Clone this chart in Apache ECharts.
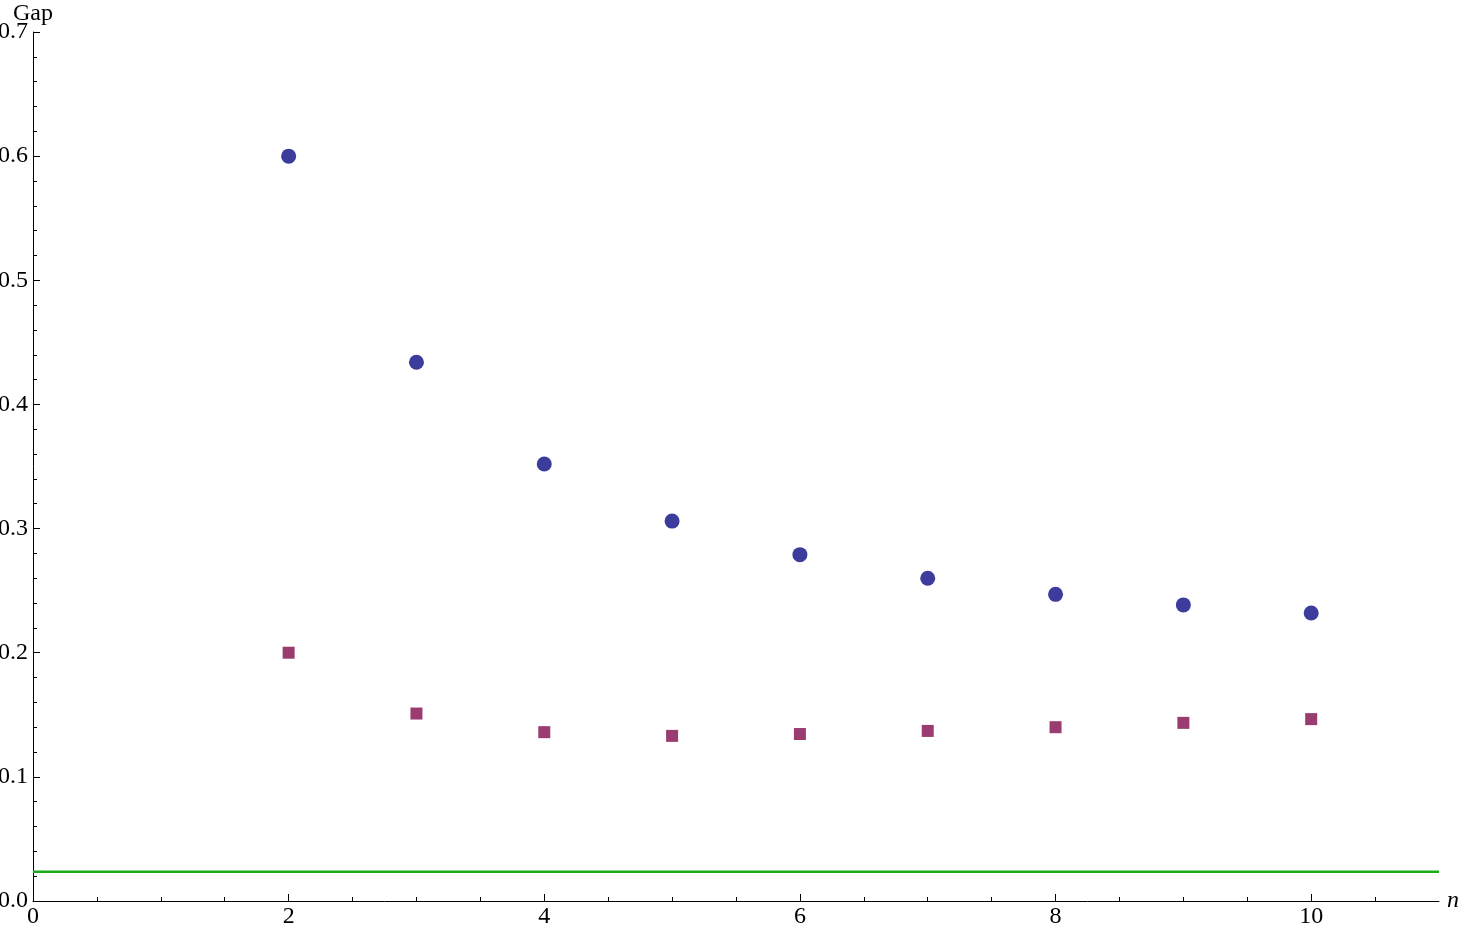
<!DOCTYPE html>
<html>
<head>
<meta charset="utf-8">
<script src="https://cdn.jsdelivr.net/npm/echarts@6/dist/echarts.min.js"></script>
<style>
	html, body { margin: 0; padding: 0; background: #fff; }
	#chart { width: 1460px; height: 933px; }
</style>
</head>
<body>
<div id="chart"></div>
<script>
var nValues = [2, 3, 4, 5, 6, 7, 8, 9, 10];
var gapCircles = [0.600, 0.434, 0.352, 0.306, 0.279, 0.260, 0.247, 0.2385, 0.232];
var gapSquares = [0.200, 0.151, 0.136, 0.133, 0.1345, 0.137, 0.140, 0.1435, 0.1465];
var limitLine = 0.0235;
var xMajorTicks = [0, 2, 4, 6, 8, 10];
var xMinorTicks = [0.5, 1, 1.5, 2.5, 3, 3.5, 4.5, 5, 5.5, 6.5, 7, 7.5, 8.5, 9, 9.5, 10.5];

var chart = echarts.init(document.getElementById('chart'));
var font = '"Liberation Serif", "DejaVu Serif", serif';

//点对
function pairs(xs, ys) {
	var out = [];
	for(var i = 0; i < xs.length; i++) {
		out.push([xs[i], ys[i]]);
	}
	return out;
}

chart.setOption({
	animation: false,
	backgroundColor: '#fff',
	grid: { left: 33, right: 21, top: 32, bottom: 32, containLabel: false, outerBoundsMode: 'none' },
	xAxis: [{
		type: 'value',
		min: 0,
		max: 11,
		interval: 2,
		name: 'n',
		nameLocation: 'end',
		nameGap: 8,
		nameMoveOverlap: false,
		nameTextStyle: { fontFamily: font, fontSize: 24, fontStyle: 'italic', color: '#000', verticalAlign: 'middle', padding: [12, 0, 0, 0] },
		axisLine: { lineStyle: { color: '#000', width: 1 } },
		axisTick: { inside: true, length: 7, customValues: xMajorTicks, lineStyle: { color: '#000' } },
		axisLabel: { customValues: xMajorTicks, margin: 4, fontFamily: font, fontSize: 24, color: '#000' },
		splitLine: { show: false }
	}, {
		type: 'value',
		min: 0,
		max: 11,
		position: 'bottom',
		axisLine: { show: false },
		axisTick: { inside: true, length: 4, customValues: xMinorTicks, lineStyle: { color: '#000' } },
		axisLabel: { show: false },
		splitLine: { show: false }
	}],
	yAxis: {
		type: 'value',
		min: 0,
		max: 0.7,
		interval: 0.1,
		name: 'Gap',
		nameLocation: 'end',
		nameGap: 6,
		nameMoveOverlap: false,
		nameTextStyle: { fontFamily: font, fontSize: 24, color: '#000' },
		axisLine: { show: true, lineStyle: { color: '#000', width: 1 } },
		axisTick: { show: true, inside: true, length: 7, lineStyle: { color: '#000' } },
		minorTick: { show: true, splitNumber: 5, length: 4, lineStyle: { color: '#000' } },
		axisLabel: {
			margin: 5,
			fontFamily: font,
			fontSize: 24,
			color: '#000',
			formatter: function(v) { return v.toFixed(1); }
		},
		splitLine: { show: false }
	},
	series: [{
		type: 'line',
		data: [[0, limitLine], [11, limitLine]],
		symbol: 'none',
		lineStyle: { color: '#1aaa1a', width: 2.5 },
		z: 1
	}, {
		type: 'scatter',
		data: pairs(nValues, gapCircles),
		symbol: 'circle',
		symbolSize: 15,
		itemStyle: { color: '#3c3c9c', opacity: 1 },
		z: 3
	}, {
		type: 'scatter',
		data: pairs(nValues, gapSquares),
		symbol: 'rect',
		symbolSize: 12,
		itemStyle: { color: '#9a3c70', opacity: 1 },
		z: 3
	}]
});
</script>
</body>
</html>
